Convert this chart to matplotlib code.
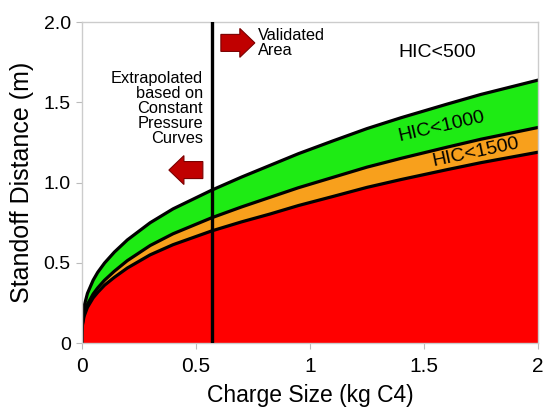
import matplotlib
matplotlib.use('Agg')
import matplotlib.pyplot as plt

# charge size (kg C4) where the curves were read
charge = [0, 0.0005, 0.001, 0.003, 0.01, 0.025, 0.05, 0.07, 0.1, 0.143, 0.2,
          0.3, 0.4, 0.57, 0.7, 0.825, 0.95, 1.1, 1.25, 1.4, 1.6, 1.75, 2.0]
# standoff distance (m) for each HIC limit
hic500 = [0, 0.084, 0.106, 0.153, 0.228, 0.310, 0.392, 0.441, 0.499, 0.567,
          0.643, 0.750, 0.836, 0.953, 1.034, 1.107, 1.180, 1.259, 1.336,
          1.404, 1.488, 1.549, 1.638]
hic1000 = [0, 0.067, 0.085, 0.122, 0.180, 0.242, 0.306, 0.344, 0.392, 0.448,
           0.514, 0.608, 0.681, 0.781, 0.848, 0.908, 0.968, 1.032, 1.096,
           1.151, 1.220, 1.270, 1.343]
hic1500 = [0, 0.062, 0.078, 0.112, 0.166, 0.223, 0.282, 0.316, 0.361, 0.410,
           0.468, 0.550, 0.613, 0.699, 0.755, 0.804, 0.857, 0.913, 0.970,
           1.019, 1.080, 1.124, 1.189]

validated_limit = 0.57
x_ticks = [0, 0.5, 1, 1.5, 2]
x_tick_labels = ['0', '0.5', '1', '1.5', '2']
y_ticks = [0, 0.5, 1.0, 1.5, 2.0]
y_tick_labels = ['0', '0.5', '1.0', '1.5', '2.0']

plt.rcParams['font.family'] = ['Liberation Sans', 'DejaVu Sans']

fig = plt.figure(figsize=(5.45, 4.08), dpi=100)
ax = fig.add_axes([0.150, 0.159, 0.837, 0.787])

green = '#1eeb14'
orange = '#f8a01c'
red = '#ff0000'

ax.fill_between(charge, 0, hic1500, color=red, lw=0, zorder=1)
ax.fill_between(charge, hic1500, hic1000, color=orange, lw=0, zorder=1)
ax.fill_between(charge, hic1000, hic500, color=green, lw=0, zorder=1)

for curve in (hic500, hic1000, hic1500):
    ax.plot(charge, curve, color='black', lw=2.3, zorder=2,
            solid_joinstyle='round')

ax.axvline(validated_limit, color='black', lw=2.4, zorder=3)

# labels for the zones
ax.text(1.56, 1.81, 'HIC<500', fontsize=14, ha='center', va='center')
ax.text(1.578, 1.348, 'HIC<1000', fontsize=14, ha='center', va='center',
        rotation=13, rotation_mode='anchor')
ax.text(1.727, 1.188, 'HIC<1500', fontsize=14, ha='center', va='center',
        rotation=12, rotation_mode='anchor')

ax.text(0.531, 1.464, 'Extrapolated\nbased on\nConstant\nPressure\nCurves',
        fontsize=11.8, ha='right', va='center', linespacing=1.0)
ax.text(0.772, 1.87, 'Validated\nArea', fontsize=11.8, ha='left',
        va='center', linespacing=0.95)

# red arrows
arrow_kw = dict(width=0.106, head_width=0.18, head_length=0.066,
                length_includes_head=True, fc='#c00000', ec='#7a0000',
                lw=0.8, zorder=4)
ax.arrow(0.61, 1.87, 0.149, 0, **arrow_kw)
ax.arrow(0.531, 1.078, -0.149, 0, **arrow_kw)

ax.set_xlim(0, 2)
ax.set_ylim(0, 2)
ax.set_xticks(x_ticks)
ax.set_xticklabels(x_tick_labels)
ax.set_yticks(y_ticks)
ax.set_yticklabels(y_tick_labels)
ax.tick_params(direction='out', length=4, color='#bbbbbb')
ax.tick_params(axis='x', labelsize=15, pad=6)
ax.tick_params(axis='y', labelsize=14, pad=4)

for side in ax.spines.values():
    side.set_color('#cccccc')
    side.set_linewidth(1)

ax.set_xlabel('Charge Size (kg C4)', fontsize=16.5)
ax.set_ylabel('Standoff Distance (m)', fontsize=18)
ax.xaxis.set_label_coords(0.5, -0.128)
ax.yaxis.set_label_coords(-0.105, 0.5)

fig.savefig('out.png', dpi=100)
